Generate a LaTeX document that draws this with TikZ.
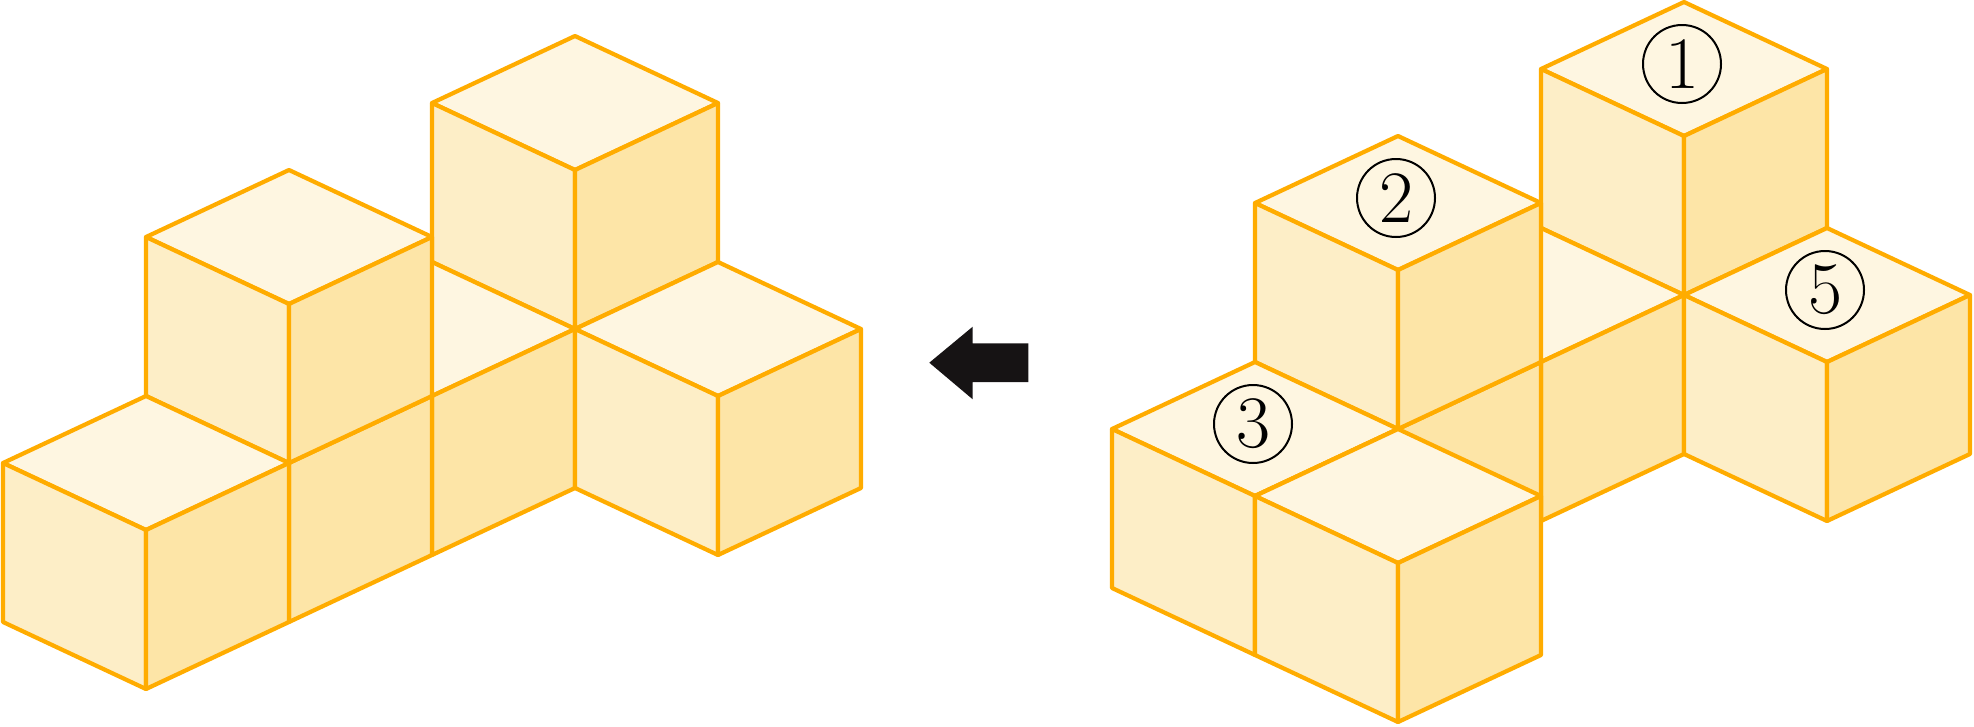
\documentclass[tikz,border=0pt]{standalone}
\definecolor{edgec}{RGB}{255,172,0}
\definecolor{topc}{RGB}{254,246,225}
\definecolor{leftc}{RGB}{253,238,199}
\definecolor{rightc}{RGB}{253,229,167}
\definecolor{arrowc}{RGB}{22,19,20}
\tikzset{
  face/.style={draw=edgec, line width=4.2pt, line join=round},
  topface/.style={face, fill=topc},
  leftface/.style={face, fill=leftc},
  rightface/.style={face, fill=rightc},
  lab/.style={circle, draw=black, line width=2pt, minimum size=78pt, inner sep=0pt,
              font=\fontsize{74}{74}\selectfont, xshift=-2pt, yshift=5pt},
  iso/.style={x={(143pt,67pt)}, y={(-143pt,67pt)}, z={(0pt,159pt)}}
}
\newcommand\cubeat[3]{%
  \filldraw[topface] (#1,#2,#3+1) -- (#1+1,#2,#3+1) -- (#1+1,#2+1,#3+1) -- (#1,#2+1,#3+1) -- cycle;
  \filldraw[leftface] (#1,#2,#3) -- (#1,#2+1,#3) -- (#1,#2+1,#3+1) -- (#1,#2,#3+1) -- cycle;
  \filldraw[rightface] (#1,#2,#3) -- (#1+1,#2,#3) -- (#1+1,#2,#3+1) -- (#1,#2,#3+1) -- cycle;}
\begin{document}
\begin{tikzpicture}[x=1pt,y=-1pt]
\useasboundingbox (0,0) rectangle (1974,726);
% left figure
\begin{scope}[shift={(146pt,-689pt)}, iso]
  \cubeat{3}{0}{0}
  \cubeat{3}{0}{1}
  \cubeat{2}{0}{0}
  \cubeat{3}{-1}{0}
  \cubeat{1}{0}{0}
  \cubeat{1}{0}{1}
  \cubeat{0}{0}{0}
\end{scope}
% arrow
\fill[arrowc] (929.3,362.7) -- (972.7,326.7) -- (972.7,343.3) -- (1028.3,343.3)
  -- (1028.3,382) -- (972.7,382) -- (972.7,399.3) -- cycle;
% right figure
\begin{scope}[shift={(1398pt,-722pt)}, iso]
  \cubeat{3}{1}{0}
  \cubeat{3}{1}{1}
  \cubeat{2}{1}{0}
  \cubeat{3}{0}{0}
  \cubeat{1}{1}{0}
  \cubeat{1}{1}{1}
  \cubeat{0}{1}{0}
  \cubeat{0}{0}{0}
  \node[lab] (n1) at (3.5,1.5,2) {1};
  \node[lab] (n2) at (1.5,1.5,2) {2};
  \node[lab] (n3) at (0.5,1.5,1) {3};
  \node[lab] (n5) at (3.5,0.5,1) {5};
\end{scope}
\end{tikzpicture}
\end{document}
